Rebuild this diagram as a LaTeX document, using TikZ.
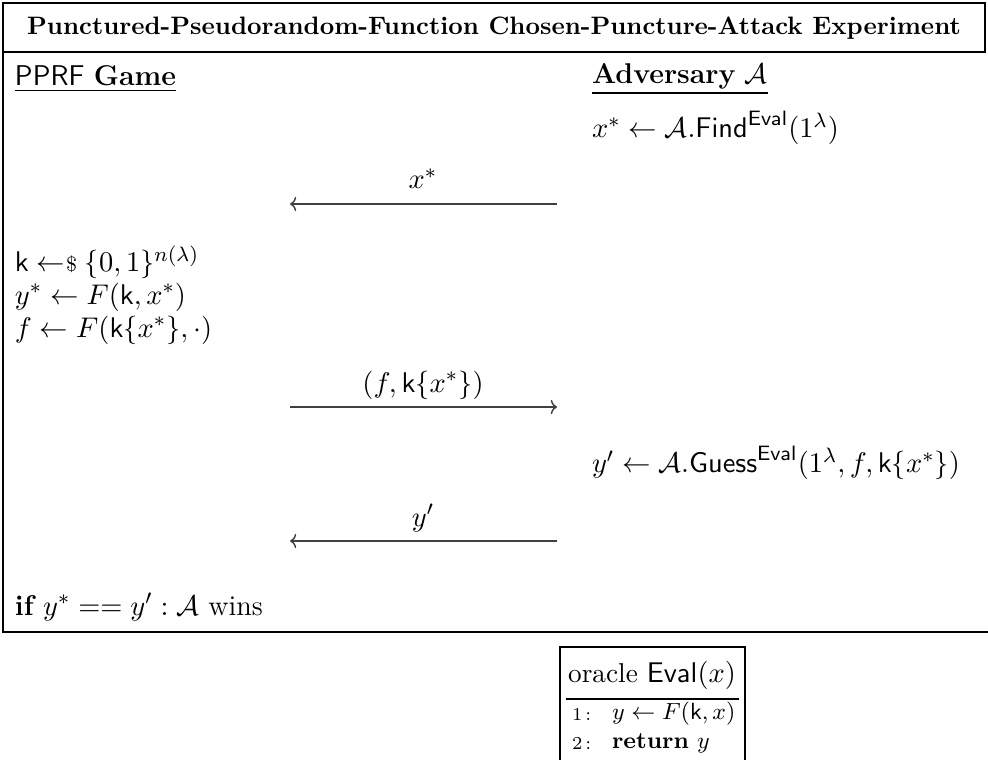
\documentclass[tikz,border=0pt]{standalone}
\usepackage{amsmath,amssymb}
\usetikzlibrary{arrows.meta}
\newcommand{\smp}{\mathrel{\leftarrow\hspace{-0.25em}{\scriptstyle\$}}}
\begin{document}
\begin{tikzpicture}[x=0.385pt,y=-0.385pt,
  txt/.style={inner sep=0pt,outer sep=0pt,anchor=west,font=\fontsize{11}{13}\selectfont},
  msg/.style={draw=black!75,line width=0.55pt,-{To[length=2.4pt,width=5.5pt]}},
  frame/.style={draw=black,line width=0.6pt},
  lbl/.style={inner sep=0pt,font=\fontsize{11}{13}\selectfont}]
\useasboundingbox (0,0) rectangle (988,760);
% frame
\draw[frame] (3,52) -- (3,3) -- (985,3) -- (985,52) -- cycle;
\draw[frame] (3,52) -- (3,632) -- (988,632);
\node[lbl,font=\fontsize{9.7}{12}\selectfont\bfseries] (title) at (494,28) {Punctured-Pseudorandom-Function Chosen-Puncture-Attack Experiment};
% headers
\node[txt] (game) at (15,79) {\underline{\textsf{PPRF} \textbf{Game}}};
\node[txt] (adv) at (592,79) {\underline{\textbf{Adversary} $\mathcal{A}$}};
\node[txt] (find) at (592,128) {$x^* \leftarrow \mathcal{A}.\mathsf{Find}^{\mathsf{Eval}}(1^\lambda)$};
% message 1
\coordinate (m1l) at (290,204);
\coordinate (m1r) at (557,204);
\draw[msg] (m1r) -- (m1l);
\node[lbl] (m1t) at (423,179) {$x^*$};
% game steps
\node[txt] (s1) at (15,262) {$\mathsf{k} \smp \{0,1\}^{n(\lambda)}$};
\node[txt] (s2) at (15,297) {$y^* \leftarrow F(\mathsf{k},x^*)$};
\node[txt] (s3) at (15,330) {$f \leftarrow F(\mathsf{k}\{x^*\},\cdot)$};
% message 2
\coordinate (m2l) at (290,407);
\coordinate (m2r) at (557,407);
\draw[msg] (m2l) -- (m2r);
\node[lbl] (m2t) at (423,385) {$(f,\mathsf{k}\{x^*\})$};
% guess
\node[txt] (guess) at (592,463) {$y' \leftarrow \mathcal{A}.\mathsf{Guess}^{\mathsf{Eval}}(1^\lambda,f,\mathsf{k}\{x^*\})$};
% message 3
\coordinate (m3l) at (290,541);
\coordinate (m3r) at (557,541);
\draw[msg] (m3r) -- (m3l);
\node[lbl] (m3t) at (423,518) {$y'$};
% final
\node[txt] (win) at (15,607) {$\textbf{if}\ y^* == y' : \mathcal{A}\ \text{wins}$};
% oracle
\draw[frame] (560,760) -- (560,647) -- (745,647) -- (745,760);
\node[lbl,font=\fontsize{10.5}{13}\selectfont] (orh) at (652,675) {oracle $\mathsf{Eval}(x)$};
\draw[line width=0.5pt] (566,699) -- (739,699);
\node[txt,font=\scriptsize] (n1) at (572,714) {1\,:};
\node[txt,font=\fontsize{9.5}{11}\selectfont] (o1) at (612,714) {$y \leftarrow F(\mathsf{k},x)$};
\node[txt,font=\scriptsize] (n2) at (572,743) {2\,:};
\node[txt,font=\fontsize{9.5}{11}\selectfont] (o2) at (612,743) {$\mathbf{return}\ y$};
\end{tikzpicture}
\end{document}
